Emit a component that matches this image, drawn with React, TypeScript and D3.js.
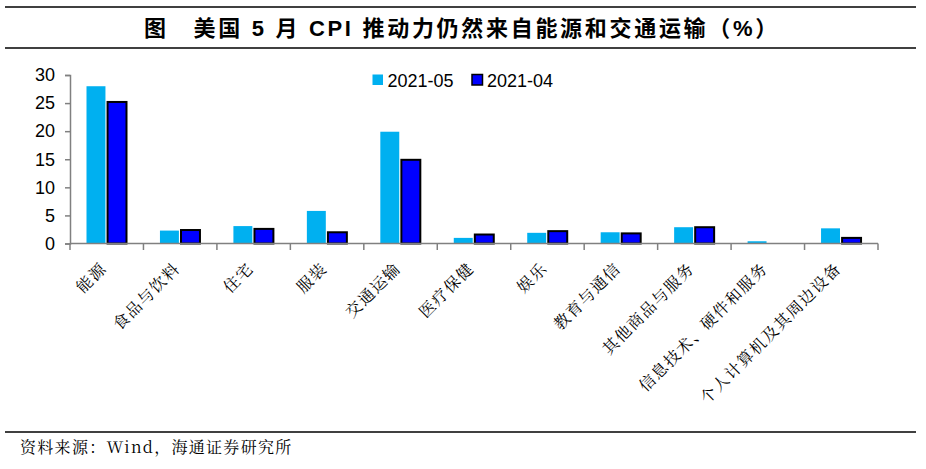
import React, { useEffect, useRef } from "react";
import * as d3 from "d3";

const categories = [
  "能源", "食品与饮料", "住宅", "服装", "交通运输", "医疗保健",
  "娱乐", "教育与通信", "其他商品与服务", "信息技术、硬件和服务", "个人计算机及其周边设备",
];
const may2021 = [28.0, 2.3, 3.1, 5.8, 19.9, 1.0, 1.9, 2.0, 2.9, 0.4, 2.7];
const apr2021 = [25.2, 2.4, 2.6, 2.0, 14.9, 1.6, 2.2, 1.8, 2.9, 0.0, 1.0];
const seriesNames = ["2021-05", "2021-04"];
const yTicks = [0, 5, 10, 15, 20, 25, 30];

const W = 926;
const H = 469;
const cjk = "'Noto Serif CJK SC', 'Noto Sans CJK SC', serif";
const latin = "'Liberation Sans', Arial, 'Noto Sans CJK SC', sans-serif";

export default function App() {
  const ref = useRef<SVGSVGElement>(null);

  useEffect(() => {
    const svg = d3.select(ref.current);
    svg.selectAll("*").remove();

    const x0 = d3.scaleBand<string>().domain(categories).range([70, 878]);
    const x1 = d3.scaleBand<string>().domain(seriesNames).range([16.5, 56.5]).paddingInner(0.1);
    const y = d3.scaleLinear().domain([0, 30]).range([243.5, 75]);

    // frame lines
    const frame = svg.append("g").attr("stroke", "#000").attr("stroke-width", 1.5);
    frame.append("line").attr("x1", 5).attr("x2", 916).attr("y1", 7).attr("y2", 7);
    frame.append("line").attr("x1", 5).attr("x2", 916).attr("y1", 48).attr("y2", 48);
    frame.append("line").attr("x1", 5).attr("x2", 916).attr("y1", 432).attr("y2", 432);

    // title
    svg.append("text")
      .attr("x", 462).attr("y", 36)
      .attr("text-anchor", "middle")
      .attr("font-family", latin)
      .attr("font-weight", "bold")
      .attr("font-size", 22)
      .style("letter-spacing", "2.7px")
      .text("图\u3000美国 5 月 CPI 推动力仍然来自能源和交通运输（%）");

    // source
    svg.append("text")
      .attr("x", 20).attr("y", 453)
      .attr("font-family", cjk)
      .attr("font-size", 16)
      .style("letter-spacing", "1.3px")
      .text("资料来源：Wind，海通证券研究所");

    // bars
    const data = [may2021, apr2021];
    const colors = ["#00B0F0", "#0000FF"];
    data.forEach((vals, si) => {
      svg.append("g")
        .selectAll("rect")
        .data(vals)
        .enter()
        .append("rect")
        .attr("x", (_, i) => x0(categories[i])! + x1(seriesNames[si])!)
        .attr("width", x1.bandwidth())
        .attr("y", d => y(d))
        .attr("height", d => Math.max(0, y(0) - y(d)))
        .attr("fill", colors[si])
        .attr("stroke", si === 1 ? "#000" : "none")
        .attr("stroke-width", si === 1 ? 2 : 0)
        .attr("display", d => (d > 0 ? null : "none"));
    });

    // y axis
    const yAxis = svg.append("g").attr("transform", "translate(70,0)")
      .call(d3.axisLeft(y).tickValues(yTicks).tickSize(5).tickPadding(10));
    yAxis.select(".domain").attr("stroke", "#808080").attr("stroke-width", 1.5);
    yAxis.selectAll(".tick line").attr("stroke", "#808080").attr("stroke-width", 1.5);
    yAxis.selectAll(".tick text").attr("font-family", latin).attr("font-size", 18).attr("fill", "#000");

    // x axis
    const xTickPos = categories.map((_, i) => 70 + i * x0.step()).concat([878]);
    const xAxis = svg.append("g");
    xAxis.append("line").attr("x1", 70).attr("x2", 878).attr("y1", y(0)).attr("y2", y(0))
      .attr("stroke", "#808080").attr("stroke-width", 1.5);
    xAxis.selectAll("line.tk").data(xTickPos).enter().append("line")
      .attr("class", "tk")
      .attr("x1", d => d).attr("x2", d => d)
      .attr("y1", y(0)).attr("y2", y(0) + 6.5)
      .attr("stroke", "#808080").attr("stroke-width", 1.5);
    xAxis.selectAll("text").data(categories).enter().append("text")
      .attr("transform", d => `translate(${x0(d)! + x0.bandwidth() / 2 + 1},${y(0) + 26}) rotate(-45)`)
      .attr("text-anchor", "end")
      .attr("font-family", cjk)
      .attr("font-size", 16)
      .style("letter-spacing", "1.4px")
      .text(d => d);

    // legend
    const leg = svg.append("g");
    const legX = [372.5, 472];
    seriesNames.forEach((name, i) => {
      leg.append("rect")
        .attr("x", legX[i]).attr("y", 74.5)
        .attr("width", 10.5).attr("height", 10.5)
        .attr("fill", colors[i])
        .attr("stroke", i === 1 ? "#000" : "none")
        .attr("stroke-width", i === 1 ? 1.5 : 0);
      leg.append("text")
        .attr("x", legX[i] + 15).attr("y", 86.5)
        .attr("font-family", latin)
        .attr("font-size", 18)
        .text(name);
    });
  }, []);

  return (
    <div style={{ position: "absolute", left: 0, top: 0 }}>
      <svg ref={ref} width={W} height={H} style={{ display: "block", background: "#fff" }} />
    </div>
  );
}
